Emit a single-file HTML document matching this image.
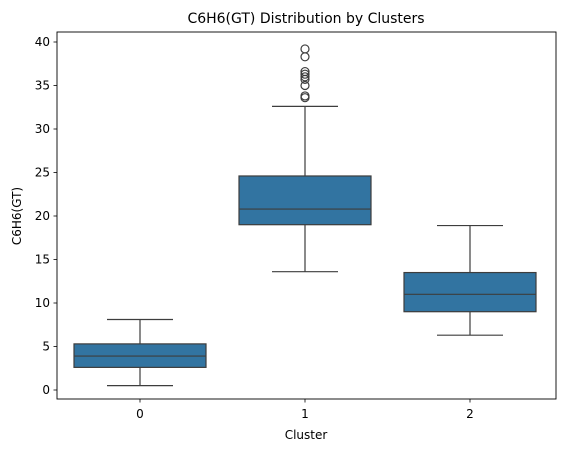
<!DOCTYPE html>
<html><head><meta charset="utf-8"><style>
body{margin:0;background:#fff;}
svg text{font-family:"DejaVu Sans","Liberation Sans",sans-serif;fill:#000;}
</style></head><body>
<svg width="562" height="455" xmlns="http://www.w3.org/2000/svg">
<text x="306" y="23" font-size="14" text-anchor="middle">C6H6(GT) Distribution by Clusters</text>
<g id="plot"></g>
<rect x="57" y="32" width="499" height="367" fill="none" stroke="#000" stroke-width="0.9"/>
<text x="306" y="439" font-size="12" text-anchor="middle">Cluster</text>
<text transform="translate(21,216) rotate(-90)" font-size="12" text-anchor="middle">C6H6(GT)</text>
</svg>
<script>
const categories=["0","1","2"];
const whiskLow=[0.5,13.6,6.3];
const q1=[2.6,19.0,9.0];
const median=[3.9,20.8,11.0];
const q3=[5.3,24.6,13.5];
const whiskHigh=[8.1,32.6,18.9];
const outliers=[[],[39.2,38.3,36.6,36.3,36.0,35.7,35.0,33.8,33.6],[]];
const yTicks=[0,5,10,15,20,25,30,35,40];
const NS="http://www.w3.org/2000/svg";
const g=document.getElementById('plot');
const y=v=>390-v*8.7;
const band=165, x0=57.5;
const xc=i=>x0+band*(i+0.5);
function mk(t,a){const e=document.createElementNS(NS,t);for(const k in a)e.setAttribute(k,a[k]);g.appendChild(e);return e;}
yTicks.forEach(t=>{
  const l=mk('line',{x1:53.5,x2:57,y1:y(t),y2:y(t),stroke:'#000','stroke-width':0.8});
  
  
  const tx=mk('text',{x:50,y:y(t)+4,'font-size':12,'text-anchor':'end'});tx.textContent=t;
  
  
});
categories.forEach((c,i)=>{
  const cx=xc(i),w=band*0.8;
  const l=mk('line',{x1:cx,x2:cx,y1:399,y2:402.5,stroke:'#000','stroke-width':0.8});
  
  
  const tx=mk('text',{x:cx,y:418,'font-size':12,'text-anchor':'middle'});tx.textContent=c;
  
  
  const st={stroke:'#3d3d3d','stroke-width':1.2};
  const w1=mk('line',Object.assign({x1:cx,x2:cx,y1:y(whiskLow[i]),y2:y(q1[i])},st));
  
  
  const w2=mk('line',Object.assign({x1:cx,x2:cx,y1:y(q3[i]),y2:y(whiskHigh[i])},st));
  
  
  const c1=mk('line',Object.assign({x1:cx-w/4,x2:cx+w/4,y1:y(whiskLow[i]),y2:y(whiskLow[i])},st));
  
  
  const c2=mk('line',Object.assign({x1:cx-w/4,x2:cx+w/4,y1:y(whiskHigh[i]),y2:y(whiskHigh[i])},st));
  
  
  const b=mk('rect',Object.assign({x:cx-w/2,y:y(q3[i]),width:w,height:y(q1[i])-y(q3[i]),fill:'#3274a1'},st));
  
  
  const m=mk('line',Object.assign({x1:cx-w/2,x2:cx+w/2,y1:y(median[i]),y2:y(median[i])},st));
  
  
  outliers[i].forEach(v=>{
    const o=mk('circle',{cx:cx,cy:y(v),r:4,fill:'none',stroke:'#3d3d3d','stroke-width':1.2});
    
    
  });
});
</script>
</body></html>
